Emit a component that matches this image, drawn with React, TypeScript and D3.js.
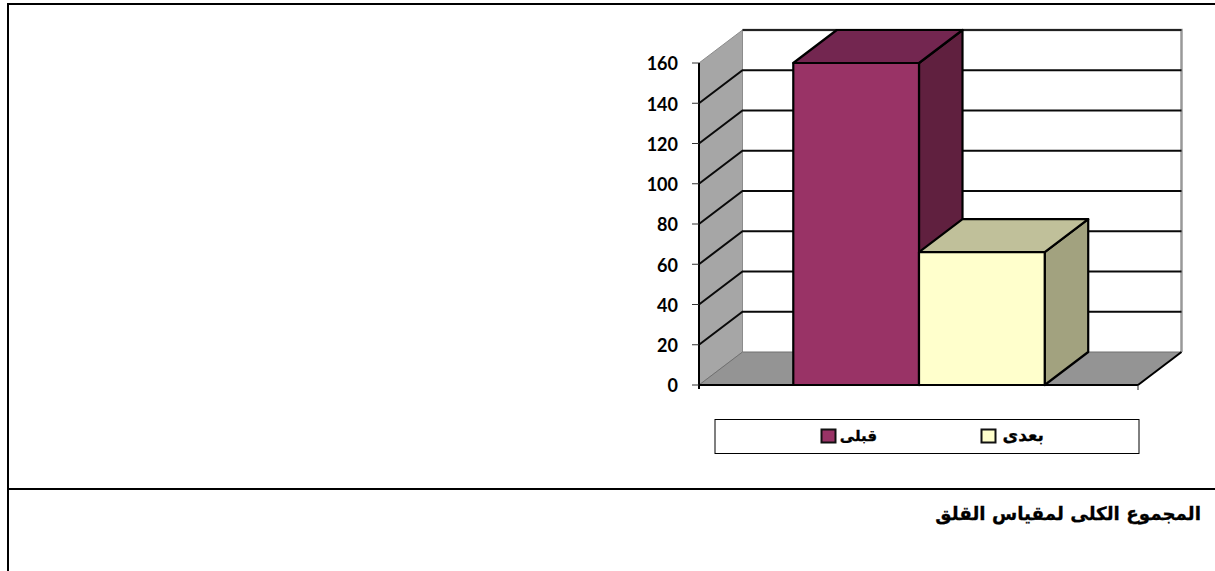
import React from "react";
import * as d3 from "d3";

const seriesNames = ["قبلى", "بعدى"];
const seriesValues = [160, 66];
const seriesFronts = ["#993366", "#ffffcc"];
const seriesTops = ["#732650", "#c0c09a"];
const seriesSides = ["#60203f", "#a2a27f"];
const tickValues = [0, 20, 40, 60, 80, 100, 120, 140, 160];
const caption = "المجموع الكلى لمقياس القلق";

const width = 1215;
const height = 571;
const left = 699;
const right = 1139;
const baseY = 385;
const topY = 63;
const depthX = 43.5;
const depthY = 33;

const y = d3.scaleLinear().domain([0, 160]).range([baseY, topY]);
const x = d3
  .scaleBand<string>()
  .domain(seriesNames)
  .range([left, right])
  .paddingInner(0)
  .paddingOuter(0.75);

const poly = (pts: [number, number][]) => pts.map((p) => p.join(",")).join(" ");

export default function App() {
  const bw = x.bandwidth();
  return (
    <svg
      width={width}
      height={height}
      style={{ position: "absolute", left: 0, top: 0, background: "#fff" }}
    >
      {/* page frame and caption rule */}
      <g stroke="#000" strokeWidth={2} fill="none">
        <path d="M1215,4 H8 V571" />
        <path d="M8,489 H1215" />
      </g>

      {/* back wall, side wall and floor */}
      <polygon
        points={poly([
          [left, baseY],
          [left + depthX, baseY - depthY],
          [left + depthX, topY - depthY],
          [left, topY],
        ])}
        fill="#a6a6a6"
        stroke="#8c8c8c"
      />
      <polygon
        points={poly([
          [left, baseY],
          [right - 1, baseY],
          [right - 1 + depthX, baseY - depthY],
          [left + depthX, baseY - depthY],
        ])}
        fill="#949494"
        stroke="#707070"
      />
      <path
        d={`M${left + depthX},${topY - depthY} H${right - 1 + depthX} V${baseY - depthY}`}
        fill="none"
        stroke="#999"
        strokeWidth={2.5}
      />
      <path
        d={`M${left + depthX},${topY - depthY} H${right - 1 + depthX}`}
        fill="none"
        stroke="#222"
        strokeWidth={2}
      />

      {/* gridlines wrapping the side wall and back wall */}
      {tickValues.slice(1, -1).map((t) => (
        <path
          key={t}
          d={`M${left},${y(t)} L${left + depthX},${y(t) - depthY} H${right - 1 + depthX}`}
          fill="none"
          stroke="#0a0a0a"
          strokeWidth={2}
        />
      ))}

      {/* value axis */}
      <path d={`M${left},${topY} V${baseY + 4}`} stroke="#000" strokeWidth={2} />
      <path d={`M${left},${baseY} H${right - 1}`} stroke="#000" strokeWidth={2} />
      <path d={`M${right - 1},${baseY} V${baseY + 5}`} stroke="#222" />
      <path
        d={`M${right - 1},${baseY} L${right - 1 + depthX},${baseY - depthY}`}
        stroke="#000"
        strokeWidth={2}
      />
      {tickValues.map((t) => (
        <g key={t}>
          <line x1={left - 7} x2={left} y1={y(t)} y2={y(t)} stroke="#333" />
          <text
            x={678}
            y={y(t) + 1}
            dy="0.36em"
            textAnchor="end"
            fontFamily="Lato, sans-serif"
            fontWeight={700}
            fontSize={18}
            fill="#000"
          >
            {t}
          </text>
        </g>
      ))}

      {/* 3D columns */}
      {seriesNames.map((name, i) => {
        const x0 = x(name)!;
        const x1 = x0 + bw;
        const yt = y(seriesValues[i]);
        return (
          <g key={name} stroke="#000" strokeWidth={2.2} strokeLinejoin="round">
            <polygon
              points={poly([
                [x1, yt],
                [x1 + depthX, yt - depthY],
                [x1 + depthX, baseY - depthY],
                [x1, baseY],
              ])}
              fill={seriesSides[i]}
            />
            <polygon
              points={poly([
                [x0, yt],
                [x0 + depthX, yt - depthY],
                [x1 + depthX, yt - depthY],
                [x1, yt],
              ])}
              fill={seriesTops[i]}
            />
            <rect x={x0} y={yt} width={bw} height={baseY - yt} fill={seriesFronts[i]} />
          </g>
        );
      })}

      {/* legend */}
      <rect x={715} y={419.5} width={424} height={34} fill="#fff" stroke="#000" />
      {seriesNames.map((name, i) => {
        const sx = 821 + i * 160;
        return (
          <g key={name}>
            <rect
              x={sx + 0.5}
              y={429.5}
              width={14}
              height={13}
              fill={seriesFronts[i]}
              stroke="#111"
              strokeWidth={2}
            />
            <text
              x={i === 0 ? 877 : 1044}
              y={441}
              direction="rtl"
              textAnchor="start"
              fontFamily="'DejaVu Sans', sans-serif"
              fontWeight={700}
              fontSize={i === 0 ? 15 : 17}
              fill="#000"
              stroke="#000"
              strokeWidth={0.3}
            >
              {name}
            </text>
          </g>
        );
      })}

      {/* caption under the chart */}
      <text
        x={1201}
        y={520}
        direction="rtl"
        textAnchor="start"
        fontFamily="'DejaVu Sans', sans-serif"
        fontWeight={700}
        fontSize={18.3}
        fill="#000"
        stroke="#000"
        strokeWidth={0.3}
      >
        {caption}
      </text>
    </svg>
  );
}
